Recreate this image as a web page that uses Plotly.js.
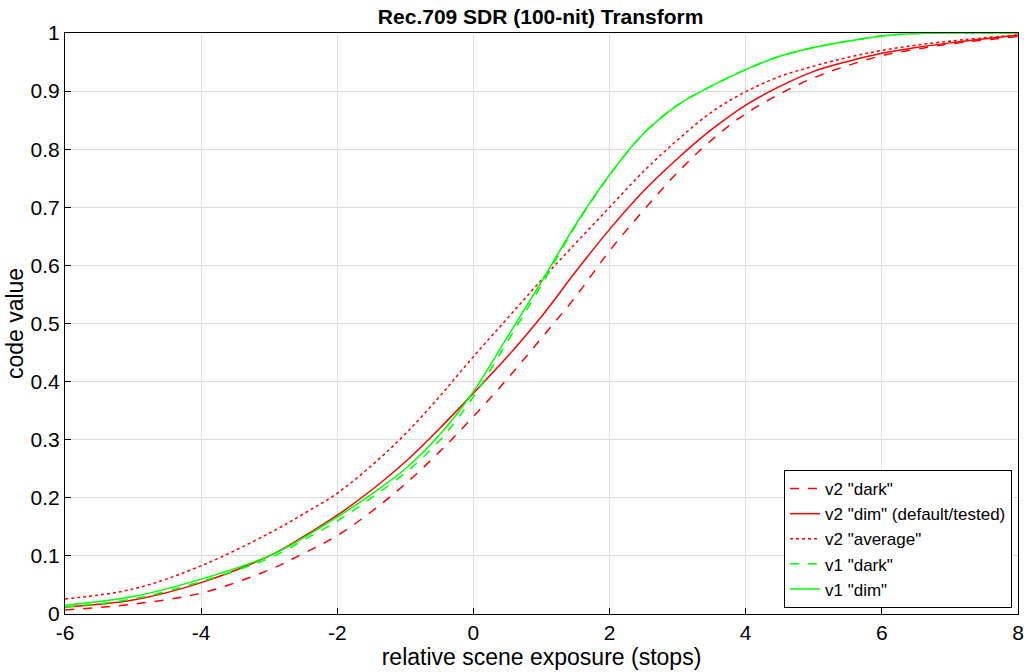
<!DOCTYPE html>
<html>
<head>
<meta charset="utf-8">
<script src="https://cdn.plot.ly/plotly-3.0.1.min.js"></script>
<style>
  html, body { margin: 0; padding: 0; background: #ffffff; }
  #chart { width: 1024px; height: 672px; }
</style>
</head>
<body>
<div id="chart"></div>
<script>
// relative scene exposure (stops)
const exposure = [-6, -5, -4, -3, -2.5, -2, -1.5, -1, -0.5, 0, 0.5, 1, 1.5, 2, 2.5, 3, 3.5, 4, 4.5, 5, 5.5, 6, 6.5, 7, 8];

// code values
const v2Dark    = [0.007, 0.017, 0.036, 0.076, 0.104, 0.135, 0.176, 0.224, 0.279, 0.340, 0.405, 0.475, 0.546, 0.625, 0.695, 0.760, 0.816, 0.861, 0.895, 0.923, 0.944, 0.961, 0.972, 0.981, 0.994];
const v2Dim     = [0.012, 0.024, 0.054, 0.100, 0.133, 0.170, 0.213, 0.262, 0.319, 0.380, 0.443, 0.512, 0.589, 0.662, 0.728, 0.784, 0.834, 0.876, 0.908, 0.934, 0.951, 0.965, 0.975, 0.983, 0.996];
const v2Average = [0.026, 0.043, 0.083, 0.139, 0.172, 0.208, 0.255, 0.310, 0.374, 0.443, 0.509, 0.575, 0.638, 0.700, 0.762, 0.816, 0.864, 0.899, 0.925, 0.943, 0.958, 0.970, 0.979, 0.986, 0.997];
const v1Dark    = [0.012, 0.026, 0.056, 0.096, 0.127, 0.160, 0.200, 0.243, 0.298, 0.374, 0.469, 0.566, 0.668, 0.755, 0.827, 0.876, 0.909, 0.937, 0.960, 0.975, 0.986, 0.995, 0.999, 1.000, 1.000];
const v1Dim     = [0.015, 0.030, 0.060, 0.100, 0.131, 0.167, 0.206, 0.250, 0.308, 0.383, 0.477, 0.572, 0.670, 0.756, 0.827, 0.876, 0.909, 0.937, 0.960, 0.975, 0.986, 0.995, 0.999, 1.000, 1.000];

const seriesNames = ['v2 "dark"', 'v2 "dim" (default/tested)', 'v2 "average"', 'v1 "dark"', 'v1 "dim"'];

const xTicks = [-6, -4, -2, 0, 2, 4, 6, 8];
const yTicks = [0, 0.1, 0.2, 0.3, 0.4, 0.5, 0.6, 0.7, 0.8, 0.9, 1];
const yTickText = ['0', '0.1', '0.2', '0.3', '0.4', '0.5', '0.6', '0.7', '0.8', '0.9', '1'];

const RED = '#ff0000';
const GREEN = '#00ff00';

function tr(y, name, color, dash) {
  return {
    x: exposure, y: y, name: name, type: 'scatter', mode: 'lines',
    line: {color: color, width: 1.5, dash: dash, shape: 'spline', smoothing: 1}
  };
}

const data = [
  tr(v2Dark, seriesNames[0], RED, 'dash'),
  tr(v2Dim, seriesNames[1], RED, 'solid'),
  tr(v2Average, seriesNames[2], RED, 'dot'),
  tr(v1Dark, seriesNames[3], GREEN, 'dash'),
  tr(v1Dim, seriesNames[4], GREEN, 'solid')
];

const FONT = 'Liberation Sans, Arial, Helvetica, sans-serif';

const layout = {
  width: 1024, height: 672,
  paper_bgcolor: '#ffffff', plot_bgcolor: '#ffffff',
  margin: {l: 65, r: 6, t: 33, b: 58},
  font: {family: FONT, color: '#000000', size: 18},
  title: {
    text: 'Rec.709 SDR (100-nit) Transform',
    font: {family: FONT, size: 21, color: '#000000', weight: 'bold'},
    x: 0.528, xanchor: 'center', y: 0.975, yanchor: 'middle'
  },
  xaxis: {
    range: [-6, 8], tickvals: xTicks, ticktext: xTicks.map(String),
    showgrid: true, gridcolor: '#dedede', gridwidth: 1,
    zeroline: false, showline: true, linecolor: '#000000', linewidth: 1, mirror: true,
    ticks: 'inside', ticklen: 6, tickcolor: '#000000',
    tickfont: {family: FONT, size: 21, color: '#000000'},
    title: {text: 'relative scene exposure (stops)', font: {family: FONT, size: 23, color: '#000000'}, standoff: 4},
    automargin: false
  },
  yaxis: {
    range: [0, 1], tickvals: yTicks, ticktext: yTickText,
    showgrid: true, gridcolor: '#dedede', gridwidth: 1,
    zeroline: false, showline: true, linecolor: '#000000', linewidth: 1, mirror: true,
    ticks: 'inside', ticklen: 6, tickcolor: '#000000',
    tickfont: {family: FONT, size: 21, color: '#000000'},
    title: {text: 'code value', font: {family: FONT, size: 23, color: '#000000'}, standoff: 0},
    automargin: false
  },
  legend: {
    x: 0.9937, xanchor: 'right', y: 0.0103, yanchor: 'bottom',
    bgcolor: '#ffffff', bordercolor: '#000000', borderwidth: 1,
    font: {family: FONT, size: 17, color: '#000000'},
    tracegroupgap: 0, itemwidth: 30
  },
  showlegend: true
};

Plotly.newPlot('chart', data, layout, {displayModeBar: false, staticPlot: true});
</script>
</body>
</html>
